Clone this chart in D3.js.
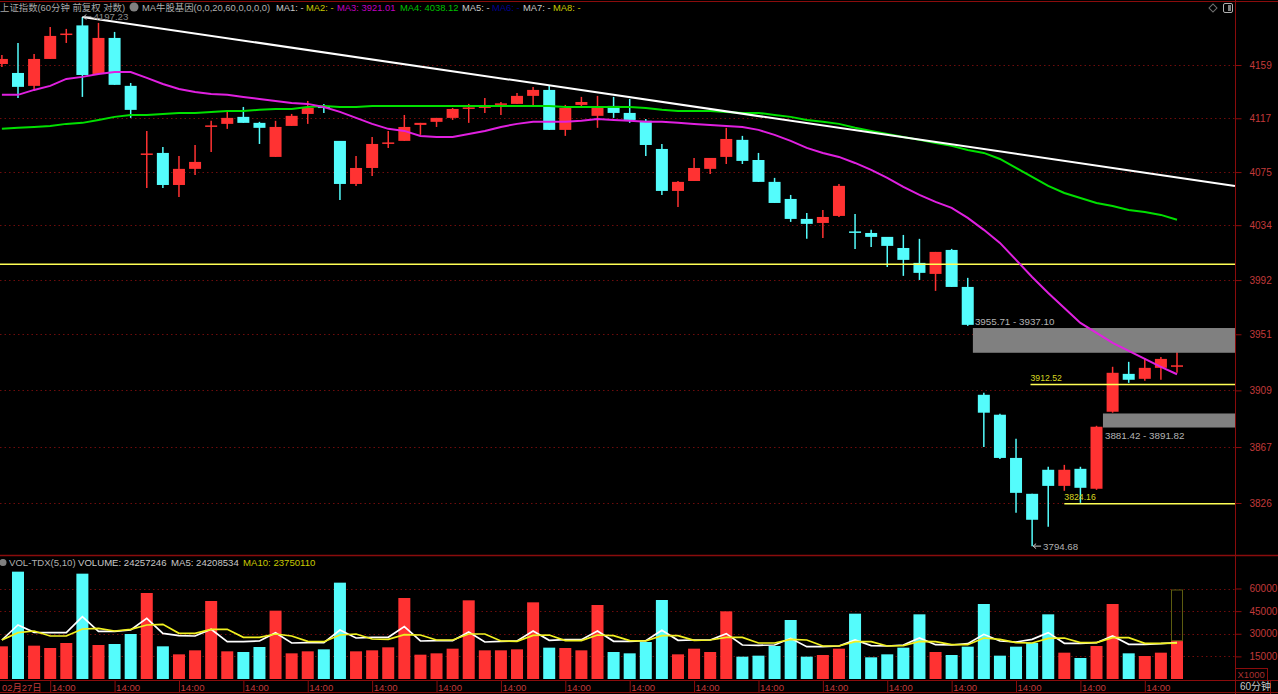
<!DOCTYPE html>
<html>
<head>
<meta charset="utf-8">
<script src="https://cdn.jsdelivr.net/npm/d3@7"></script>
<style>
html, body { margin: 0; background: #000; overflow: hidden; }
text { font-family: "Liberation Sans", "Noto Sans CJK SC", sans-serif; font-size: 9.4px; }
</style>
</head>
<body>
<div id="chart"></div>
<script>
const opens = [4159.8, 4152.7, 4142.5, 4163.8, 4183.4, 4190.5, 4151.9, 4180.5, 4142.5, 4088.7,
  4089.9, 4065.0, 4077.5, 4110.6, 4112.6, 4118.1, 4113.4, 4086.8, 4111.0, 4120.4,
  4126.2, 4099.3, 4065.8, 4078.2, 4097.3, 4099.3, 4111.8, 4114.2, 4117.3, 4124.7,
  4125.5, 4127.9, 4128.3, 4134.6, 4139.3, 4107.9, 4127.5, 4118.9, 4126.7, 4121.2,
  4115.0, 4093.0, 4060.4, 4068.1, 4077.5, 4086.8, 4100.1, 4084.4, 4067.4, 4054.2,
  4038.8, 4035.7, 4041.1, 4029.2, 4028.0, 4025.0, 4016.5, 4005.1, 3996.7, 4015.0,
  3986.8, 3905.7, 3890.9, 3859.0, 3832.7, 3850.3, 3838.5, 3851.0, 3836.4, 3893.1,
  3921.3, 3917.6, 3925.8, 3926.9];
const closes = [4163.8, 4141.7, 4163.8, 4182.1, 4184.0, 4151.1, 4180.5, 4143.3, 4123.6, 4089.5,
  4065.0, 4077.5, 4082.9, 4111.4, 4117.3, 4113.4, 4109.5, 4110.2, 4118.9, 4125.1,
  4125.6, 4065.8, 4078.2, 4096.9, 4098.1, 4110.2, 4113.4, 4117.3, 4124.3, 4125.5,
  4126.3, 4128.7, 4134.6, 4139.3, 4107.9, 4125.1, 4129.8, 4125.1, 4121.2, 4115.7,
  4096.1, 4060.4, 4067.4, 4078.2, 4086.0, 4100.8, 4083.7, 4067.4, 4051.1, 4038.8,
  4035.0, 4040.3, 4064.3, 4028.4, 4025.0, 4018.1, 4007.4, 3997.5, 4013.5, 3986.8,
  3958.1, 3892.4, 3859.0, 3833.4, 3813.8, 3838.5, 3850.3, 3837.1, 3882.0, 3922.1,
  3916.9, 3925.8, 3932.5, 3927.7];
const highs = [4167.0, 4176.5, 4167.7, 4189.3, 4187.7, 4197.23, 4192.5, 4185.3, 4144.8, 4107.1,
  4094.6, 4087.5, 4096.1, 4115.0, 4122.0, 4125.9, 4114.2, 4115.0, 4120.4, 4130.6,
  4128.3, 4099.3, 4087.5, 4102.4, 4107.1, 4119.6, 4113.4, 4117.3, 4125.1, 4128.3,
  4133.0, 4129.8, 4136.9, 4141.7, 4142.5, 4127.5, 4133.8, 4134.6, 4133.8, 4132.2,
  4116.5, 4096.9, 4068.1, 4086.0, 4086.0, 4109.5, 4103.2, 4089.9, 4070.5, 4057.3,
  4043.4, 4045.7, 4065.8, 4042.6, 4030.4, 4025.0, 4026.5, 4023.5, 4013.5, 4015.8,
  3993.7, 3907.2, 3891.6, 3873.1, 3832.7, 3852.5, 3853.9, 3852.5, 3882.7, 3926.6,
  3930.3, 3933.2, 3934.0, 3937.7];
const lows = [4157.5, 4133.0, 4138.5, 4163.8, 4176.5, 4133.8, 4151.9, 4143.3, 4117.3, 4062.7,
  4062.7, 4055.7, 4072.8, 4090.6, 4108.7, 4113.4, 4096.9, 4086.8, 4111.0, 4112.6,
  4121.2, 4053.4, 4064.3, 4072.0, 4093.8, 4099.3, 4104.0, 4110.2, 4115.7, 4113.4,
  4121.2, 4119.6, 4128.3, 4125.9, 4107.9, 4103.2, 4125.1, 4109.5, 4117.3, 4113.4,
  4087.5, 4057.3, 4048.0, 4068.1, 4073.6, 4081.3, 4081.3, 4067.4, 4051.1, 4036.5,
  4023.5, 4024.2, 4040.3, 4015.8, 4017.3, 4002.0, 3995.2, 3992.1, 3983.8, 3986.8,
  3957.3, 3867.1, 3858.3, 3818.9, 3794.68, 3808.7, 3834.9, 3826.1, 3835.6, 3892.4,
  3914.6, 3916.1, 3916.9, 3922.1];

const ma3 = [4135.4, 4135.4, 4139.3, 4142.5, 4148.0, 4149.6, 4151.9, 4153.5, 4153.5, 4148.8,
  4144.0, 4140.1, 4137.7, 4136.1, 4135.4, 4133.8, 4132.2, 4130.6, 4129.0, 4128.3,
  4125.9, 4122.0, 4117.3, 4112.6, 4108.7, 4107.1, 4103.2, 4102.4, 4102.4, 4104.7,
  4107.1, 4110.2, 4112.6, 4114.2, 4114.2, 4114.2, 4115.0, 4116.5, 4115.7, 4115.0,
  4114.2, 4114.2, 4113.4, 4112.6, 4111.8, 4111.0, 4110.2, 4107.9, 4104.0, 4099.3,
  4093.8, 4089.9, 4086.8, 4082.1, 4076.7, 4070.5, 4063.5, 4057.3, 4051.9, 4047.3,
  4039.6, 4030.4, 4020.4, 4007.4, 3994.4, 3982.2, 3970.9, 3959.6, 3952.0, 3944.5,
  3938.5, 3932.5, 3926.6, 3921.01];
const ma4 = [4108.7, 4109.5, 4110.2, 4111.0, 4112.6, 4113.4, 4115.7, 4118.1, 4119.6, 4119.6,
  4120.4, 4121.2, 4121.2, 4122.0, 4122.8, 4122.8, 4123.6, 4124.3, 4124.3, 4125.9,
  4126.7, 4125.9, 4125.9, 4126.7, 4126.7, 4126.7, 4126.7, 4126.7, 4126.7, 4126.7,
  4126.7, 4126.7, 4126.7, 4126.7, 4126.7, 4125.9, 4125.9, 4125.9, 4125.9, 4125.9,
  4125.1, 4123.6, 4122.8, 4122.8, 4122.8, 4122.0, 4121.2, 4121.2, 4119.6, 4118.1,
  4115.7, 4114.2, 4112.6, 4109.5, 4107.1, 4104.7, 4102.4, 4100.1, 4097.7, 4095.4,
  4092.2, 4089.9, 4085.2, 4078.2, 4071.2, 4064.3, 4058.8, 4054.9, 4051.1, 4048.8,
  4045.7, 4044.2, 4041.9, 4038.12];

const volumes = [21658, 71162, 22100, 20553, 23868, 69836, 22542, 23205, 29835, 57018,
  21658, 16354, 19006, 51714, 18343, 17901, 21216, 45305, 17017, 18343,
  19669, 63869, 18343, 19006, 20995, 53703, 16133, 17017, 20111, 52156,
  19006, 19006, 19669, 50830, 20774, 20553, 19006, 49062, 17901, 17017,
  24531, 52377, 16354, 20111, 17901, 44863, 14807, 15470, 21879, 39117,
  14807, 15912, 20111, 43316, 14365, 16354, 20774, 42874, 17901, 15912,
  21437, 49725, 15470, 21437, 23868, 42874, 17459, 13923, 21879, 49725,
  17017, 15249, 17459, 25400];
const volMa5 = [25857, 35802, 30940, 30719, 30719, 41327, 31603, 31603, 32487, 40222,
  30277, 28730, 28509, 32929, 24752, 24752, 25194, 30719, 23868, 24089,
  24089, 32487, 27183, 27625, 27625, 34697, 25194, 25415, 25415, 31161,
  24531, 24973, 25194, 31824, 25636, 26078, 26078, 31824, 24973, 24973,
  25415, 32266, 25636, 25857, 25857, 30056, 22542, 22321, 22542, 26962,
  21437, 21437, 21879, 25857, 22100, 21879, 22542, 27183, 22763, 22542,
  23426, 29614, 25194, 24531, 26299, 30719, 23647, 23647, 24089, 28509,
  22984, 22984, 23426, 24208];
const volMa10 = [25857, 30719, 31824, 28509, 28509, 33150, 33592, 31824, 32929, 35802,
  36244, 30277, 30277, 32929, 32929, 27625, 27625, 29835, 28509, 24973,
  24752, 29172, 29835, 26520, 26299, 29393, 29172, 25857, 25857, 29835,
  29835, 25194, 24973, 28951, 29172, 25415, 25415, 29172, 28730, 25415,
  25194, 28730, 28730, 25636, 25857, 27625, 27625, 23868, 23868, 26299,
  25857, 21879, 21879, 24752, 24752, 21879, 22100, 24973, 24752, 22763,
  22763, 27183, 26299, 24089, 23868, 26962, 27183, 24089, 24089, 27404,
  27404, 23647, 23647, 23750];
const projectedVolume = 59000;

const priceTicks = [4159, 4117, 4075, 4034, 3992, 3951, 3909, 3867, 3826];
const volumeTicks = [60000, 45000, 30000, 15000];
const hourTickIndex = [3, 7, 11, 15, 19, 23, 27, 31, 35, 39, 43, 47, 51, 55, 59, 63, 67, 71];

// drawn price levels and zones: [from index, price(s)]
const trendLine = [[5, 4197.23], [76.6, 4064.3]];
const flatLine = 4004;
const levelLines = [{ from: 63.9, price: 3913.4, label: "3912.52" }, { from: 66, price: 3825.4, label: "3824.16" }];
const zones = [
  { from: 60.32, hi: 3955.71, lo: 3937.10, label: "3955.71 - 3937.10" },
  { from: 68.4, hi: 3891.82, lo: 3881.42, label: "3881.42 - 3891.82" }
];

const header = [
  { x: 0, text: "上证指数(60分钟 前复权 对数)", fill: "#a8a8a8" },
  { x: 142, text: "MA牛股基因(0,0,20,60,0,0,0,0)", fill: "#b0b0b0" },
  { x: 276, text: "MA1: -", fill: "#c8c8c8" },
  { x: 306, text: "MA2: -", fill: "#c8c800" },
  { x: 337, text: "MA3: 3921.01", fill: "#c000c0" },
  { x: 400, text: "MA4: 4038.12", fill: "#00c000" },
  { x: 462, text: "MA5: -", fill: "#c8c8c8" },
  { x: 492, text: "MA6: -", fill: "#000090" },
  { x: 523, text: "MA7: -", fill: "#c8c8c8" },
  { x: 553, text: "MA8: -", fill: "#c8c800" }
];
const volHeader = [
  { x: 9, text: "VOL-TDX(5,10)", fill: "#b0b0b0" },
  { x: 78, text: "VOLUME: 24257246", fill: "#c8c8c8" },
  { x: 171, text: "MA5: 24208534", fill: "#c8c8c8" },
  { x: 243, text: "MA10: 23750110", fill: "#c8c800" }
];

const width = 1278;
const height = 694;
const axisX = 1235.5;
const frame = "#8a0c0c";
const grid = "#6e0c0c";
const tickText = "#c23a3a";
const red = "#ff3232";
const cyan = "#54fcfc";
const barWidth = 12;

const x = d3.scaleLinear().domain([0, 73]).range([1.9, 1177]);
const y = d3.scaleLog().domain([4159, 3826]).range([65, 503]);
const yVol = d3.scaleLinear().domain([0, 60000]).range([679, 588.5]);

const svg = d3.select("#chart")
  .append("svg")
  .attr("width", width)
  .attr("height", height)
  .style("display", "block");

svg.append("rect").attr("width", width).attr("height", height).attr("fill", "#000");

// dotted grid
svg.append("g").selectAll("line")
  .data(priceTicks.map(d => y(d)).concat(volumeTicks.map(d => yVol(d))))
  .join("line")
  .attr("x1", 0)
  .attr("x2", axisX)
  .attr("y1", d => Math.round(d) + 0.5)
  .attr("y2", d => Math.round(d) + 0.5)
  .attr("stroke", grid)
  .attr("stroke-dasharray", "1.5,3");

const bars = d3.range(opens.length);
const colour = i => closes[i] >= opens[i] ? red : cyan;

// candles
const candles = svg.append("g");
candles.selectAll("line")
  .data(bars)
  .join("line")
  .attr("x1", i => x(i))
  .attr("x2", i => x(i))
  .attr("y1", i => y(highs[i]))
  .attr("y2", i => y(lows[i]))
  .attr("stroke", colour)
  .attr("stroke-width", 1.5);
candles.selectAll("rect")
  .data(bars)
  .join("rect")
  .attr("x", i => x(i) - barWidth / 2)
  .attr("width", barWidth)
  .attr("y", i => y(Math.max(opens[i], closes[i])))
  .attr("height", i => Math.max(1.5, Math.abs(y(opens[i]) - y(closes[i]))))
  .attr("fill", colour);

// grey zones sit on top of the candles
svg.append("g").selectAll("rect")
  .data(zones)
  .join("rect")
  .attr("x", d => x(d.from))
  .attr("width", d => axisX - x(d.from))
  .attr("y", d => y(d.hi))
  .attr("height", d => y(d.lo) - y(d.hi))
  .attr("fill", "#808080");
svg.append("g").selectAll("text")
  .data(zones)
  .join("text")
  .attr("x", d => x(d.from) + 2)
  .attr("y", (d, i) => i === 0 ? y(d.hi) - 3.5 : y(d.lo) + 11)
  .attr("fill", "#b4b4b4")
  .style("font-size", "9.8px")
  .text(d => d.label);

// yellow levels
svg.append("line")
  .attr("x1", 0)
  .attr("x2", axisX)
  .attr("y1", y(flatLine))
  .attr("y2", y(flatLine))
  .attr("stroke", "#ffff55")
  .attr("stroke-width", 1.5);
svg.append("g").selectAll("line")
  .data(levelLines)
  .join("line")
  .attr("x1", d => x(d.from))
  .attr("x2", axisX)
  .attr("y1", d => y(d.price))
  .attr("y2", d => y(d.price))
  .attr("stroke", "#ffff55")
  .attr("stroke-width", 1.5);
svg.append("g").selectAll("text")
  .data(levelLines)
  .join("text")
  .attr("x", d => x(d.from))
  .attr("y", d => y(d.price) - 3.5)
  .attr("fill", "#d8d820")
  .style("font-size", "8.7px")
  .text(d => d.label);

// moving averages
const maLine = d3.line().x((d, i) => x(i)).y(d => y(d));
svg.append("path").attr("d", maLine(ma4)).attr("fill", "none").attr("stroke", "#00e000").attr("stroke-width", 2);
svg.append("path").attr("d", maLine(ma3)).attr("fill", "none").attr("stroke", "#e020e0").attr("stroke-width", 2);

// trend line
svg.append("path")
  .attr("d", d3.line().x(d => x(d[0])).y(d => y(d[1]))(trendLine))
  .attr("fill", "none")
  .attr("stroke", "#fff")
  .attr("stroke-width", 2);

// high and low marks
const highIndex = highs.indexOf(d3.max(highs));
const lowIndex = lows.indexOf(d3.min(lows));
[[highIndex, highs[highIndex], "4197.23", "#8c8c8c"], [lowIndex, lows[lowIndex], "3794.68", "#b0b0b0"]].forEach(([i, price, label, fill]) => {
  const px = x(i);
  const py = y(price);
  svg.append("path")
    .attr("d", `M${px + 4},${py - 2.5}L${px + 1},${py}L${px + 4},${py + 2.5}M${px + 1},${py}H${px + 9}`)
    .attr("fill", "none")
    .attr("stroke", "#c8c8c8");
  svg.append("text")
    .attr("x", px + 11)
    .attr("y", py + 3.5)
    .attr("fill", fill)
    .style("font-size", "9.7px")
    .text(label);
});

// volume panel
svg.append("g").selectAll("rect")
  .data(bars)
  .join("rect")
  .attr("x", i => x(i) - barWidth / 2)
  .attr("width", barWidth)
  .attr("y", i => yVol(volumes[i]))
  .attr("height", i => yVol(0) - yVol(volumes[i]))
  .attr("fill", colour);

svg.append("rect")
  .attr("x", x(73) - barWidth / 2 + 0.5)
  .attr("width", barWidth - 1)
  .attr("y", yVol(projectedVolume))
  .attr("height", yVol(volumes[73]) - yVol(projectedVolume))
  .attr("fill", "none")
  .attr("stroke", "#5c5c10");

const volLine = d3.line().x((d, i) => x(i)).y(d => yVol(d));
svg.append("path").attr("d", volLine(volMa5)).attr("fill", "none").attr("stroke", "#fff").attr("stroke-width", 1.7);
svg.append("path").attr("d", volLine(volMa10)).attr("fill", "none").attr("stroke", "#f0f020").attr("stroke-width", 1.7);

// frame
[[0, 1.5, width, 1.5], [0, 555.5, width, 555.5], [0, 680.5, width, 680.5], [0, 692.5, width, 692.5], [axisX, 0, axisX, 694], [1270.5, 680, 1270.5, 694]]
  .forEach(([x1, y1, x2, y2]) => {
    svg.append("line").attr("x1", x1).attr("y1", y1).attr("x2", x2).attr("y2", y2)
      .attr("stroke", frame).attr("stroke-width", y1 === 555.5 ? 1.5 : 1);
  });

// right axes
function rightAxis(scale, ticks) {
  const g = svg.append("g")
    .attr("transform", `translate(${axisX},0)`)
    .call(d3.axisRight(scale).tickValues(ticks).tickSize(6).tickPadding(8).tickFormat(d3.format("d")));
  g.select(".domain").remove();
  g.selectAll(".tick line").attr("stroke", frame);
  g.selectAll(".tick text").attr("fill", tickText).style("font-size", "10px");
}
rightAxis(y, priceTicks);
rightAxis(yVol, volumeTicks);

// X1000 box
svg.append("rect").attr("x", axisX).attr("y", 668.5).attr("width", 32).attr("height", 12)
  .attr("fill", "#000").attr("stroke", frame);
svg.append("text").attr("x", axisX + 2).attr("y", 678).attr("fill", "#a83030").text("X1000");
svg.append("text").attr("x", 1240).attr("y", 690).attr("fill", "#c8c8c8").style("font-size", "10px").text("60分钟");

// time axis
const timeAxis = svg.append("g")
  .attr("transform", "translate(0,680.5)")
  .call(d3.axisBottom(x).tickValues(hourTickIndex).tickSize(12).tickPadding(-9).tickFormat(() => "14:00"));
timeAxis.select(".domain").remove();
timeAxis.selectAll(".tick line").attr("stroke", frame);
timeAxis.selectAll(".tick text")
  .attr("fill", tickText)
  .attr("text-anchor", "start")
  .attr("x", 1)
  .attr("y", 10)
  .attr("dy", 0)
  .style("font-size", "9.6px");
svg.append("text").attr("x", 2).attr("y", 690.5).attr("fill", tickText).text("02月27日");

// header texts
svg.append("g").selectAll("text")
  .data(header)
  .join("text")
  .attr("x", d => d.x)
  .attr("y", 11)
  .attr("fill", d => d.fill)
  .text(d => d.text);
svg.append("g").selectAll("text")
  .data(volHeader)
  .join("text")
  .attr("x", d => d.x)
  .attr("y", 566)
  .attr("fill", d => d.fill)
  .style("font-size", "9.6px")
  .text(d => d.text);
svg.append("circle").attr("cx", 134).attr("cy", 7).attr("r", 4.5).attr("fill", "#808080");
svg.append("circle").attr("cx", 3).attr("cy", 562.5).attr("r", 3.5).attr("fill", "#808080");

// small window buttons, top right
svg.append("path").attr("d", d3.symbol(d3.symbolSquare, 32)()).attr("transform", "translate(1213,8) rotate(45)")
  .attr("fill", "none").attr("stroke", "#707070");
svg.append("rect").attr("x", 1223.5).attr("y", 3.5).attr("width", 9).attr("height", 9).attr("rx", 1.5)
  .attr("fill", "#000").attr("stroke", "#b0b0b0");
svg.append("rect").attr("x", 1228).attr("y", 5).attr("width", 3).attr("height", 6).attr("fill", "#808080");
</script>
</body>
</html>
